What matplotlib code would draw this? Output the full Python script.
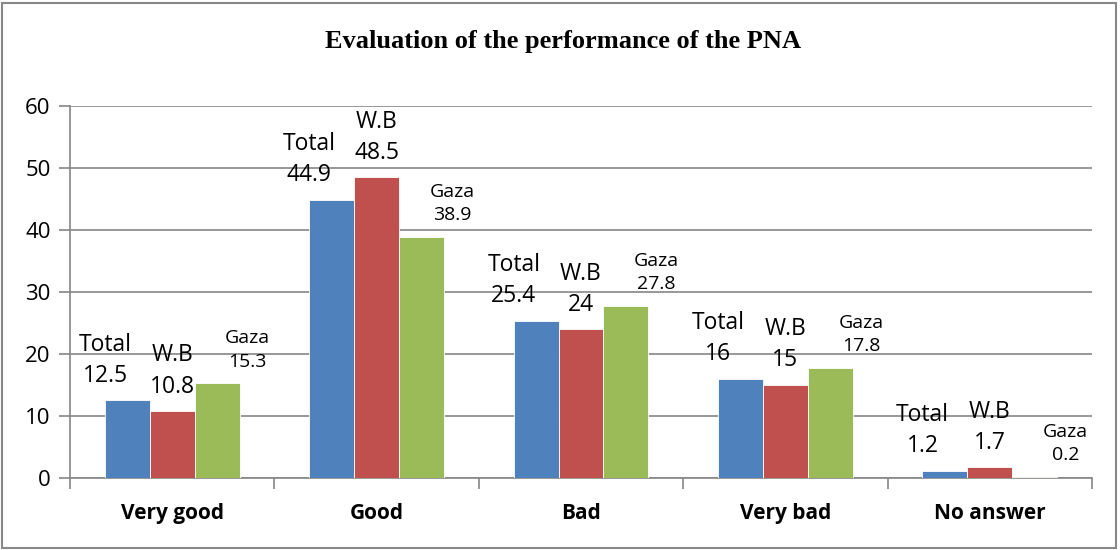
import numpy as np
import matplotlib.pyplot as plt
from matplotlib.patches import Rectangle

categories = ['Very good', 'Good', 'Bad', 'Very bad', 'No answer']
series = ['Total', 'W.B', 'Gaza']
total = [12.5, 44.9, 25.4, 16, 1.2]
wb = [10.8, 48.5, 24, 15, 1.7]
gaza = [15.3, 38.9, 27.8, 17.8, 0.2]

colors = ['#4F81BD', '#C0504D', '#9BBB59']
label_dx = [-16, 0, 22]          # label shift in points, like the manual Excel placement
label_size = [16.5, 16.5, 14]
grid_col = '#868686'

fig = plt.figure(figsize=(11.2, 5.5), dpi=100)
ax = fig.add_axes([0.0625, 0.131, 0.9125, 0.676])

x = np.arange(len(categories))
w = 0.22
for i, vals in enumerate([total, wb, gaza]):
    pos = x + (i - 1) * w
    ax.bar(pos, vals, width=w, color=colors[i], edgecolor='white', linewidth=0.6, zorder=3)
    for xp, v in zip(pos, vals):
        ax.annotate(f"{series[i]}\n{v:g}", (xp, v), xytext=(label_dx[i], 9),
                    textcoords='offset points', ha='center', va='bottom',
                    fontsize=label_size[i], family='Open Sans', linespacing=1.4, zorder=4)

ax.set_xlim(-0.5, len(categories) - 0.5)
ax.set_ylim(0, 60)
ax.set_yticks(range(0, 61, 10))
ax.yaxis.grid(True, color=grid_col, linewidth=1.2, zorder=0)
ax.set_axisbelow(True)

ax.set_xticks(x)
ax.set_xticklabels(categories, fontsize=15, fontweight='bold', family='Open Sans')
ax.set_xticks(np.arange(-0.5, len(categories)), minor=True)
ax.tick_params(axis='x', which='major', length=0, pad=18)
ax.tick_params(axis='x', which='minor', length=8, color=grid_col, width=1.2)
ax.tick_params(axis='y', length=8, color=grid_col, width=1.2, labelsize=16, pad=6)
for lab in ax.get_yticklabels():
    lab.set_family('Open Sans')

for s in ['top', 'right']:
    ax.spines[s].set_visible(False)
for s in ['left', 'bottom']:
    ax.spines[s].set_color(grid_col)
    ax.spines[s].set_linewidth(1.2)

fig.text(0.503, 0.925, 'Evaluation of the performance of the PNA', ha='center', va='center',
         fontsize=19, fontweight='bold', family='Liberation Serif')

fig.patches.append(Rectangle((0.002, 0.004), 0.994, 0.99, transform=fig.transFigure,
                             fill=False, edgecolor='#888888', linewidth=1.5))

fig.savefig('out.png', dpi=100)
